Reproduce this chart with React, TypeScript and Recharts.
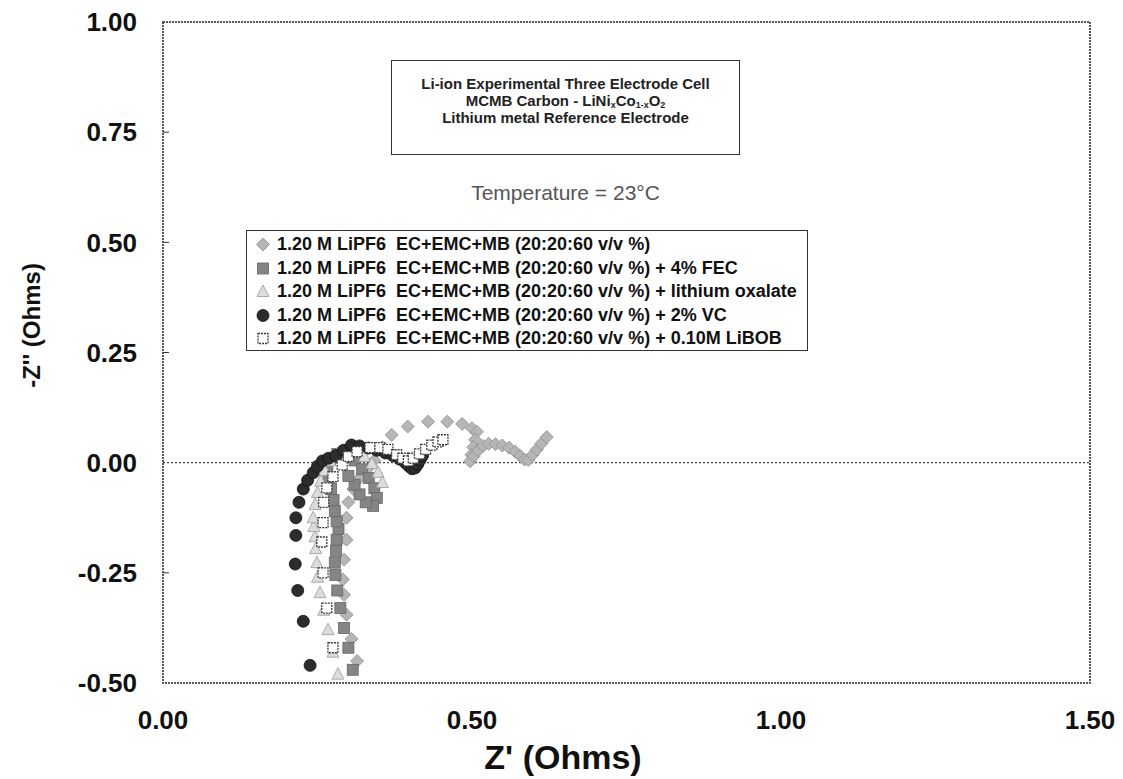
import {
  ReferenceArea,
  ReferenceLine,
  Scatter,
  ScatterChart,
  XAxis,
  YAxis,
} from "recharts";

// Z' / -Z'' pairs (Ohms)
const baseline: [number, number][] = [
  [0.314, -0.45], [0.305, -0.4], [0.297, -0.345], [0.293, -0.3], [0.291, -0.265],
  [0.293, -0.22], [0.297, -0.175], [0.297, -0.125], [0.3, -0.09], [0.308, -0.06],
  [0.318, -0.035], [0.33, -0.015], [0.342, 0.005], [0.355, 0.035], [0.37, 0.063],
  [0.396, 0.082], [0.429, 0.093], [0.46, 0.093], [0.484, 0.088], [0.5, 0.078],
  [0.508, 0.07], [0.505, 0.052], [0.502, 0.035], [0.499, 0.018], [0.497, 0.003],
  [0.503, 0.015], [0.51, 0.028], [0.518, 0.038], [0.527, 0.043], [0.538, 0.042],
  [0.549, 0.039], [0.56, 0.034], [0.57, 0.025], [0.578, 0.015], [0.585, 0.007],
  [0.591, 0.006], [0.598, 0.018], [0.605, 0.03], [0.612, 0.043], [0.621, 0.058],
];

const withFec: [number, number][] = [
  [0.307, -0.47], [0.3, -0.42], [0.293, -0.375], [0.287, -0.33], [0.282, -0.29],
  [0.279, -0.255], [0.278, -0.227], [0.28, -0.2], [0.281, -0.175], [0.284, -0.15],
  [0.281, -0.133], [0.278, -0.11], [0.276, -0.085], [0.272, -0.06], [0.268, -0.035],
  [0.266, -0.012], [0.27, 0.008], [0.282, 0.02], [0.296, 0.018], [0.31, 0.005],
  [0.322, -0.015], [0.333, -0.035], [0.342, -0.058], [0.346, -0.08], [0.34, -0.098],
  [0.328, -0.09], [0.318, -0.072], [0.31, -0.05], [0.3, -0.03],
];

const withOxalate: [number, number][] = [
  [0.283, -0.48], [0.275, -0.43], [0.267, -0.379], [0.26, -0.335], [0.254, -0.295],
  [0.25, -0.26], [0.249, -0.227], [0.247, -0.195], [0.246, -0.168], [0.244, -0.145],
  [0.243, -0.125], [0.246, -0.095], [0.25, -0.068], [0.255, -0.042], [0.262, -0.018],
  [0.27, 0.004], [0.282, 0.02], [0.296, 0.028], [0.312, 0.025], [0.326, 0.014],
  [0.338, -0.002], [0.348, -0.022], [0.355, -0.045],
];

const withVc: [number, number][] = [
  [0.238, -0.46], [0.227, -0.36], [0.218, -0.29], [0.214, -0.23], [0.215, -0.165],
  [0.215, -0.125], [0.22, -0.09], [0.227, -0.06], [0.234, -0.04], [0.243, -0.023],
  [0.25, -0.008], [0.258, 0.004], [0.268, 0.01], [0.28, 0.016], [0.292, 0.028],
  [0.305, 0.04], [0.318, 0.038], [0.332, 0.033], [0.346, 0.028], [0.36, 0.022],
  [0.372, 0.016], [0.383, 0.008], [0.392, 0.0], [0.398, -0.008], [0.403, -0.014],
  [0.408, -0.012], [0.412, -0.004], [0.416, 0.006], [0.42, 0.016],
];

const withLibob: [number, number][] = [
  [0.275, -0.42], [0.265, -0.33], [0.259, -0.25], [0.257, -0.18], [0.259, -0.136],
  [0.26, -0.09], [0.265, -0.057], [0.275, -0.032], [0.29, -0.005], [0.3, 0.014],
  [0.314, 0.025], [0.335, 0.034], [0.351, 0.034], [0.364, 0.03], [0.378, 0.018],
  [0.388, 0.01], [0.397, 0.004], [0.405, 0.01], [0.415, 0.02], [0.425, 0.03],
  [0.435, 0.04], [0.445, 0.047], [0.453, 0.052],
];

const xTicks = [0, 0.5, 1, 1.5];
const yTicks = [-0.5, -0.25, 0, 0.25, 0.5, 0.75, 1];

const electrolyte = "1.20 M LiPF6  EC+EMC+MB (20:20:60 v/v %)";
const legendLabels = [
  electrolyte,
  electrolyte + " + 4% FEC",
  electrolyte + " + lithium oxalate",
  electrolyte + " + 2% VC",
  electrolyte + " + 0.10M LiBOB",
];

type MarkerKind = "diamond" | "square" | "triangle" | "circle" | "open";

const FONT = '"Liberation Sans", Arial, sans-serif';

function toPoints(pairs: [number, number][]) {
  return pairs.map(([x, y]) => ({ x, y }));
}

const series: { name: string; kind: MarkerKind; data: { x: number; y: number }[] }[] = [
  { name: legendLabels[0], kind: "diamond", data: toPoints(baseline) },
  { name: legendLabels[1], kind: "square", data: toPoints(withFec) },
  { name: legendLabels[2], kind: "triangle", data: toPoints(withOxalate) },
  { name: legendLabels[3], kind: "circle", data: toPoints(withVc) },
  { name: legendLabels[4], kind: "open", data: toPoints(withLibob) },
];

function Marker({ kind, cx, cy }: { kind: MarkerKind; cx: number; cy: number }) {
  switch (kind) {
    case "diamond":
      return (
        <path
          d={`M${cx},${cy - 6.5} L${cx + 6.5},${cy} L${cx},${cy + 6.5} L${cx - 6.5},${cy} Z`}
          fill="#b6b6b6"
          stroke="#8c8c8c"
          strokeWidth={0.8}
        />
      );
    case "square":
      return (
        <rect x={cx - 5.5} y={cy - 5.5} width={11} height={11} fill="#858585" stroke="#666" strokeWidth={0.8} />
      );
    case "triangle":
      return (
        <path
          d={`M${cx},${cy - 6.5} L${cx + 6},${cy + 5} L${cx - 6},${cy + 5} Z`}
          fill="#dcdcdc"
          stroke="#999"
          strokeWidth={0.8}
        />
      );
    case "circle":
      return <circle cx={cx} cy={cy} r={6} fill="#2c2c2c" stroke="#111" strokeWidth={0.8} />;
    default:
      return (
        <rect
          x={cx - 5}
          y={cy - 5}
          width={10}
          height={10}
          fill="#fff"
          stroke="#3a3a3a"
          strokeWidth={1.3}
          strokeDasharray="2 1"
        />
      );
  }
}

function YTick(props: any) {
  const { x, y, payload } = props;
  const v = payload.value as number;
  const inner = v > -0.5 && v < 1 && v !== 0;
  return (
    <g>
      <text x={x} y={y} dy="0.355em" textAnchor="end" fontFamily={FONT} fontWeight="bold" fontSize={26} fill="#111">
        {v.toFixed(2)}
      </text>
      {inner && <line x1={x + 26} x2={x + 32} y1={y} y2={y} stroke="#333" strokeWidth={1} />}
    </g>
  );
}

function XTick(props: any) {
  const { x, y, payload } = props;
  return (
    <text x={x} y={y} dy="0.71em" textAnchor="middle" fontFamily={FONT} fontWeight="bold" fontSize={26} fill="#111">
      {(payload.value as number).toFixed(2)}
    </text>
  );
}

function LegendBox() {
  return (
    <div
      style={{
        position: "absolute",
        left: 246,
        top: 230,
        width: 562,
        height: 121,
        border: "1px solid #333",
        boxSizing: "border-box",
        paddingTop: 2,
        fontFamily: FONT,
        fontWeight: "bold",
        fontSize: 18,
        color: "#111",
        background: "#fff",
      }}
    >
      {series.map((s) => (
        <div key={s.name} style={{ height: 23.5, display: "flex", alignItems: "center" }}>
          <svg width={30} height={23} style={{ flex: "none" }}>
            <Marker kind={s.kind} cx={16} cy={11.5} />
          </svg>
          <span style={{ whiteSpace: "pre" }}>{s.name}</span>
        </div>
      ))}
    </div>
  );
}

const subStyle = { fontSize: 9, verticalAlign: "-2px", lineHeight: "9px" } as const;

export default function App() {
  return (
    <div style={{ position: "absolute", left: 0, top: 0, width: 1123, height: 779, background: "#fff" }}>
      <ScatterChart width={1123} height={779} margin={{ top: 22, right: 33, bottom: 0, left: 0 }}>
        <XAxis
          type="number"
          dataKey="x"
          domain={[0, 1.5]}
          ticks={xTicks}
          axisLine={false}
          tickLine={false}
          tickSize={0}
          tickMargin={28}
          height={96}
          tick={<XTick />}
          label={{
            content: (p: any) => (
              <text
                x={p.viewBox.x + 400}
                y={p.viewBox.y + 86}
                textAnchor="middle"
                fontFamily={FONT}
                fontWeight="bold"
                fontSize={34}
                fill="#111"
              >
                Z' (Ohms)
              </text>
            ),
          }}
        />
        <YAxis
          type="number"
          dataKey="y"
          domain={[-0.5, 1]}
          ticks={yTicks}
          axisLine={false}
          tickLine={false}
          tickSize={0}
          tickMargin={26}
          width={163}
          tick={<YTick />}
          label={{
            content: (p: any) => {
              const cx = p.viewBox.x + 31;
              const cy = p.viewBox.y + p.viewBox.height / 2 - 27;
              return (
                <text
                  x={cx}
                  y={cy}
                  transform={`rotate(-90 ${cx} ${cy})`}
                  textAnchor="middle"
                  dominantBaseline="central"
                  fontFamily={FONT}
                  fontWeight="bold"
                  fontSize={24}
                  fill="#111"
                >
                  -Z'' (Ohms)
                </text>
              );
            },
          }}
        />
        <ReferenceArea x1={0} x2={1.5} y1={-0.5} y2={1} fill="none" stroke="#222" strokeWidth={1.5} strokeDasharray="2 1" />
        <ReferenceLine y={0} stroke="#444" strokeWidth={1.2} strokeDasharray="2 2" />
        {series.map((s) => (
          <Scatter
            key={s.name}
            name={s.name}
            data={s.data}
            isAnimationActive={false}
            shape={(p: any) => <Marker kind={s.kind} cx={p.cx} cy={p.cy} />}
          />
        ))}
      </ScatterChart>
      <LegendBox />
      <div
        style={{
          position: "absolute",
          left: 391,
          top: 60,
          width: 349,
          height: 95,
          border: "1px solid #333",
          boxSizing: "border-box",
          paddingTop: 14,
          textAlign: "center",
          fontFamily: FONT,
          fontWeight: "bold",
          fontSize: 15,
          lineHeight: "17px",
          color: "#222",
        }}
      >
        <div style={{ height: 17 }}>Li-ion Experimental Three Electrode Cell</div>
        <div style={{ height: 15 }}>
          MCMB Carbon - LiNi<span style={subStyle}>x</span>Co<span style={subStyle}>1-x</span>O
          <span style={subStyle}>2</span>
        </div>
        <div style={{ height: 17, marginTop: 2 }}>Lithium metal Reference Electrode</div>
      </div>
      <div
        style={{
          position: "absolute",
          left: 391,
          top: 181,
          width: 349,
          textAlign: "center",
          fontFamily: FONT,
          fontSize: 21,
          color: "#555",
        }}
      >
        Temperature = 23°C
      </div>
    </div>
  );
}
